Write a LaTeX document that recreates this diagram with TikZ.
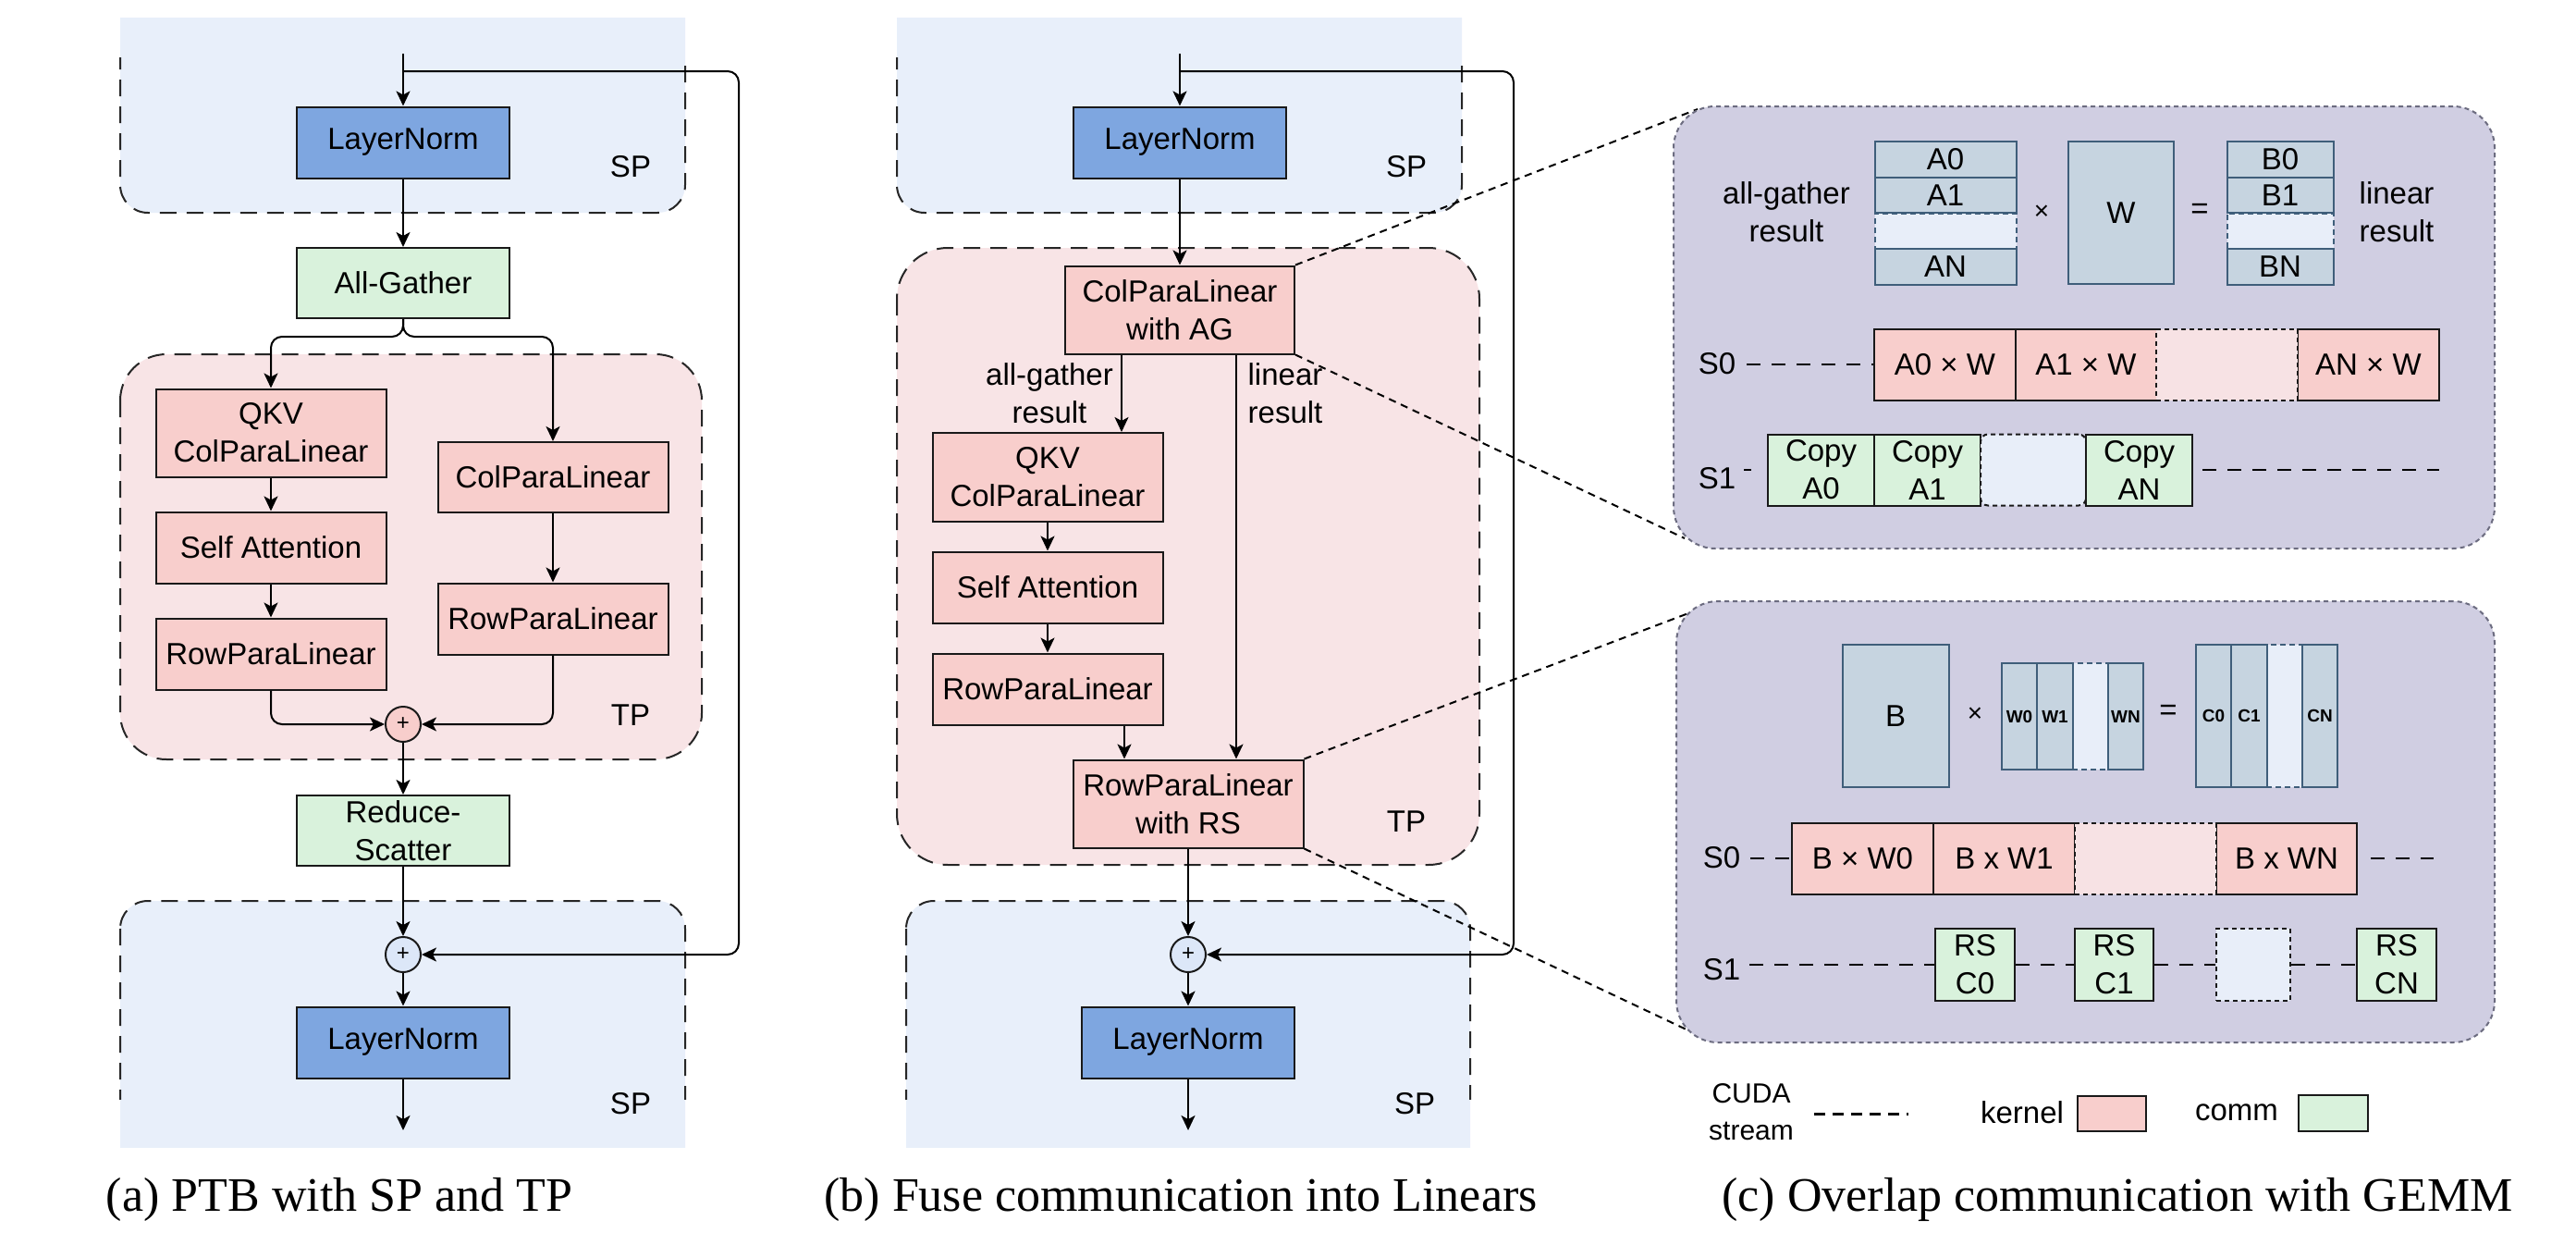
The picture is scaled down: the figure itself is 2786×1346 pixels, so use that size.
\documentclass[tikz,border=0pt]{standalone}
\usepackage{fontspec}
\setmainfont{Liberation Sans}
\newfontfamily\capfont{Liberation Serif}
\usetikzlibrary{arrows.meta,calc}
\definecolor{spblue}{HTML}{E8EFFA}
\definecolor{tppink}{HTML}{F8E4E6}
\definecolor{lnblue}{HTML}{7EA6E0}
\definecolor{kerpink}{HTML}{F8CECC}
\definecolor{commgreen}{HTML}{D9F2DC}
\definecolor{plusblue}{HTML}{DCE7F8}
\definecolor{cpurple}{HTML}{D0CEE2}
\definecolor{cborder}{HTML}{6C6C80}
\definecolor{matfill}{HTML}{C6D4E0}
\definecolor{matdraw}{HTML}{3F5E7A}
\definecolor{blankblue}{HTML}{E8EEF9}
\definecolor{blankpink}{HTML}{F7E2E4}
\begin{document}
\begin{tikzpicture}[x=1pt,y=-1pt,
  every node/.style={font=\fontsize{33}{41}\selectfont},
  bx/.style={draw=black!90, line width=2pt, align=center, inner sep=0pt},
  lnbox/.style={bx, fill=lnblue, minimum width=230pt, minimum height=77pt},
  commbox/.style={bx, fill=commgreen, minimum width=230pt, minimum height=76pt},
  kbox/.style={bx, fill=kerpink, minimum width=249pt, minimum height=77pt},
  plusnode/.style={circle, draw=black!90, line width=2pt, minimum size=38pt, inner sep=0pt, font=\fontsize{24}{24}\selectfont},
  arr/.style={-{Stealth[length=16pt,width=15pt,inset=4pt]}, line width=2pt},
  region/.style={draw=black!85, line width=2pt, dash pattern=on 18pt off 11pt},
  lbl/.style={inner sep=0pt, align=center},
  zoomline/.style={line width=2pt, dash pattern=on 8pt off 6pt},
  cpanel/.style={fill=cpurple, draw=cborder, line width=2pt, dash pattern=on 5pt off 4pt, rounded corners=45pt, inner sep=0pt},
  mat/.style={draw=matdraw, fill=matfill, line width=2pt, inner sep=0pt, align=center},
  matblank/.style={draw=matdraw, fill=blankblue, line width=2pt, dash pattern=on 6pt off 4pt, inner sep=0pt},
  kseg/.style={bx, fill=kerpink, minimum width=153pt, minimum height=77pt},
  kblank/.style={draw=black!90, fill=blankpink, line width=2pt, dash pattern=on 5pt off 4pt, inner sep=0pt, minimum width=153pt, minimum height=77pt},
  cseg/.style={bx, fill=commgreen, minimum height=77pt},
  cblank/.style={draw=black!90, fill=blankblue, line width=2pt, dash pattern=on 5pt off 4pt, inner sep=0pt, minimum height=77pt},
  stream/.style={line width=2pt, dash pattern=on 15pt off 12pt},
  smallb/.style={font=\fontsize{19}{22}\selectfont\bfseries},
]
\useasboundingbox (0,0) rectangle (2786,1346);
\fill[white] (0,0) rectangle (2786,1346);

% ---------------- regions (a)
\begin{scope}
  \clip (0,20) rectangle (2786,1346);
  \fill[spblue, rounded corners=30pt] (130,-60) rectangle (741,230);
  \fill[spblue, rounded corners=30pt] (970,-60) rectangle (1581,230);
\end{scope}
\begin{scope}
  \clip (0,63) rectangle (2786,1346);
  \draw[region, rounded corners=30pt] (130,-60) rectangle (741,230);
  \draw[region, rounded corners=30pt] (970,-60) rectangle (1581,230);
\end{scope}
\draw[region, fill=tppink, rounded corners=50pt] (130,383) rectangle (759,821);
\draw[region, fill=tppink, rounded corners=55pt] (970,268) rectangle (1600,935);
\begin{scope}
  \clip (0,0) rectangle (2786,1240);
  \fill[spblue, rounded corners=30pt] (130,974) rectangle (741,1400);
  \fill[spblue, rounded corners=30pt] (980,974) rectangle (1590,1400);
\end{scope}
\begin{scope}
  \clip (0,0) rectangle (2786,1188);
  \draw[region, rounded corners=30pt] (130,974) rectangle (741,1400);
  \draw[region, rounded corners=30pt] (980,974) rectangle (1590,1400);
\end{scope}

% ---------------- panel (a)
\node[lnbox] (a_ln1) at (436,154) {LayerNorm};
\node[commbox] (a_ag) at (436,306) {All-Gather};
\node[kbox, minimum height=95pt] (a_qkv) at (293,468) {QKV\\ColParaLinear};
\node[kbox, minimum height=76pt] (a_col) at (598,516) {ColParaLinear};
\node[kbox] (a_sa) at (293,592) {Self Attention};
\node[kbox] (a_row1) at (293,707) {RowParaLinear};
\node[kbox] (a_row2) at (598,669) {RowParaLinear};
\node[plusnode, fill=kerpink] (a_p1) at (436,783) {+};
\node[commbox] (a_rs) at (436,898) {Reduce-\\Scatter};
\node[plusnode, fill=plusblue] (a_p2) at (436,1032) {+};
\node[lnbox] (a_ln2) at (436,1127) {LayerNorm};
\node[lbl] (a_sp1) at (682,180) {SP};
\node[lbl] (a_tp) at (682,773) {TP};
\node[lbl] (a_sp2) at (682,1193) {SP};
\coordinate (a_in) at (436,58);
\coordinate (a_br) at (436,77);
\coordinate (a_sk1) at (799,77);
\coordinate (a_sk2) at (799,1032);
\coordinate (a_out) at (436,1222);

\draw[arr] (a_in) -- (a_ln1);
\draw[arr, rounded corners=12pt] (a_br) -- (a_sk1) -- (a_sk2) -- (a_p2);
\draw[arr] (a_ln1) -- (a_ag);
\draw[arr, rounded corners=12pt] (a_ag.south) -- ++(0,19) -| (a_qkv.north);
\draw[arr, rounded corners=12pt] (a_ag.south) -- ++(0,19) -| (a_col.north);
\draw[arr] (a_qkv) -- (a_sa);
\draw[arr] (a_sa) -- (a_row1);
\draw[arr] (a_col) -- (a_row2);
\draw[arr, rounded corners=12pt] (a_row1.south) |- (a_p1);
\draw[arr, rounded corners=12pt] (a_row2.south) |- (a_p1);
\draw[arr] (a_p1) -- (a_rs);
\draw[arr] (a_rs) -- (a_p2);
\draw[arr] (a_p2) -- (a_ln2);
\draw[arr] (a_ln2) -- (a_out);

% ---------------- panel (b)
\node[lnbox] (b_ln1) at (1276,154) {LayerNorm};
\node[kbox, minimum width=248pt, minimum height=95pt] (b_col) at (1276,335) {ColParaLinear\\with AG};
\node[kbox, minimum height=96pt] (b_qkv) at (1133,516) {QKV\\ColParaLinear};
\node[kbox] (b_sa) at (1133,635) {Self Attention};
\node[kbox] (b_row) at (1133,745) {RowParaLinear};
\node[kbox, minimum height=95pt] (b_rrs) at (1285,869) {RowParaLinear\\with RS};
\node[plusnode, fill=plusblue] (b_p) at (1285,1032) {+};
\node[lnbox] (b_ln2) at (1285,1127) {LayerNorm};
\node[lbl] (b_sp1) at (1521,180) {SP};
\node[lbl] (b_tp) at (1521,888) {TP};
\node[lbl] (b_sp2) at (1530,1193) {SP};
\node[lbl] (b_agl) at (1135,425) {all-gather\\result};
\node[lbl] (b_lrl) at (1390,425) {linear\\result};
\coordinate (b_in) at (1276,58);
\coordinate (b_br) at (1276,77);
\coordinate (b_sk1) at (1637,77);
\coordinate (b_sk2) at (1637,1032);
\coordinate (b_out) at (1285,1222);

\draw[arr] (b_in) -- (b_ln1);
\draw[arr, rounded corners=12pt] (b_br) -- (b_sk1) -- (b_sk2) -- (b_p);
\draw[arr] (b_ln1) -- (b_col);
\draw[arr] ([xshift=-63pt]b_col.south) -- ([xshift=80pt]b_qkv.north);
\draw[arr] ([xshift=61pt]b_col.south) -- ([xshift=52pt]b_rrs.north);
\draw[arr] (b_qkv) -- (b_sa);
\draw[arr] (b_sa) -- (b_row);
\draw[arr] ([xshift=83pt]b_row.south) -- ([xshift=-69pt]b_rrs.north);
\draw[arr] (b_rrs) -- (b_p);
\draw[arr] (b_p) -- (b_ln2);
\draw[arr] (b_ln2) -- (b_out);

% ---------------- zoom lines
\coordinate (z1a) at (1836,118);
\coordinate (z1b) at (1822,582);
\coordinate (z2a) at (1834,660);
\coordinate (z2b) at (1828,1115);
\draw[zoomline] (b_col.north east) -- (z1a);
\draw[zoomline] (b_col.south east) -- (z1b);
\draw[zoomline] (b_rrs.north east) -- (z2a);
\draw[zoomline] (b_rrs.south east) -- (z2b);

% ---------------- panel (c) top
\node[cpanel, minimum width=888pt, minimum height=478pt] (c1) at (2254,354) {};
\node[lbl] (c1_agl) at (1932,229) {all-gather\\result};
\node[matblank, minimum width=153pt, minimum height=38.5pt] (c1_ab) at (2104,249.75) {};
\node[mat, minimum width=153pt, minimum height=38.5pt] (c1_a0) at (2104,172.5) {A0};
\node[mat, minimum width=153pt, minimum height=38.5pt] (c1_a1) at (2104,211) {A1};
\node[mat, minimum width=153pt, minimum height=38.5pt] (c1_an) at (2104,288.25) {AN};
\node[lbl, font=\fontsize{28}{30}\selectfont] (c1_x) at (2208,230) {×};
\node[mat, minimum width=114pt, minimum height=154.5pt] (c1_w) at (2294,230) {W};
\node[lbl] (c1_eq) at (2379,228) {=};
\node[matblank, minimum width=115pt, minimum height=38.5pt] (c1_bb) at (2466,249.75) {};
\node[mat, minimum width=115pt, minimum height=38.5pt] (c1_b0) at (2466,172.5) {B0};
\node[mat, minimum width=115pt, minimum height=38.5pt] (c1_b1) at (2466,211) {B1};
\node[mat, minimum width=115pt, minimum height=38.5pt] (c1_bn) at (2466,288.25) {BN};
\node[lbl] (c1_lrl) at (2592,229) {linear\\result};

\node[lbl] (c1_s0) at (1857,393) {S0};
\node[kseg] (c1_k0) at (2103.5,394) {A0 × W};
\node[kseg] (c1_k1) at (2256,394) {A1 × W};
\node[kseg] (c1_kn) at (2561.5,394) {AN × W};
\node[kblank] (c1_kb) at (2408.5,394) {};
\coordinate (c1_s0st) at (1889,394);
\draw[stream] (c1_s0st) -- (c1_k0.west);

\node[lbl] (c1_s1) at (1857,517) {S1};
\node[cseg, minimum width=115pt] (c1_c0) at (1969.5,508) {Copy\\A0};
\node[cseg, minimum width=115pt] (c1_c1) at (2084.5,508) {Copy\\A1};
\node[cblank, minimum width=114pt, rounded corners=8pt] (c1_cb) at (2199,508) {};
\node[cseg, minimum width=115pt] (c1_cn) at (2313.5,508) {Copy\\AN};
\coordinate (c1_s1st) at (1886,508);
\coordinate (c1_s1end) at (2638,508);
\draw[line width=2pt] (c1_s1st) -- ++(8,0);
\draw[stream] ([xshift=10pt]c1_cn.east) -- (c1_s1end);

% ---------------- panel (c) bottom
\node[cpanel, minimum width=885pt, minimum height=477pt] (c2) at (2255.5,888.5) {};
\node[mat, minimum width=115pt, minimum height=154pt] (c2_b) at (2050,774) {B};
\node[lbl, font=\fontsize{28}{30}\selectfont] (c2_x) at (2136,773) {×};
\node[matblank, minimum width=38.5pt, minimum height=115pt] (c2_wb) at (2260.5,774.5) {};
\node[mat, smallb, minimum width=38.5pt, minimum height=115pt] (c2_w0) at (2184,774.5) {W0};
\node[mat, smallb, minimum width=38.5pt, minimum height=115pt] (c2_w1) at (2222.5,774.5) {W1};
\node[mat, smallb, minimum width=38.5pt, minimum height=115pt] (c2_wn) at (2299,774.5) {WN};
\node[lbl] (c2_eq) at (2345,770) {=};
\node[matblank, minimum width=38.5pt, minimum height=154pt] (c2_cb) at (2470.5,774) {};
\node[mat, smallb, minimum width=38.5pt, minimum height=154pt] (c2_c0) at (2394,774) {C0};
\node[mat, smallb, minimum width=38.5pt, minimum height=154pt] (c2_c1) at (2432.5,774) {C1};
\node[mat, smallb, minimum width=38.5pt, minimum height=154pt] (c2_cn) at (2509,774) {CN};

\node[lbl] (c2_s0) at (1862,927) {S0};
\node[kseg] (c2_k0) at (2014.5,928) {B × W0};
\node[kseg] (c2_k1) at (2167.5,928) {B x W1};
\node[kseg, minimum width=152pt] (c2_kn) at (2473,928) {B x WN};
\node[kblank] (c2_kb) at (2320.5,928) {};
\coordinate (c2_s0st) at (1893,928);
\coordinate (c2_s0end) at (2632,928);
\draw[stream] (c2_s0st) -- (c2_k0.west);
\draw[stream] ([xshift=14pt]c2_kn.east) -- (c2_s0end);

\node[lbl] (c2_s1) at (1862,1048) {S1};
\node[cseg, minimum width=86pt, minimum height=78pt] (c2_r0) at (2136,1043) {RS\\C0};
\node[cseg, minimum width=85pt, minimum height=78pt] (c2_r1) at (2286.5,1043) {RS\\C1};
\node[cblank, minimum width=80pt, minimum height=78pt] (c2_rb) at (2437,1043) {};
\node[cseg, minimum width=86pt, minimum height=78pt] (c2_rn) at (2592,1043) {RS\\CN};
\coordinate (c2_s1st) at (1892,1043);
\draw[stream] (c2_s1st) -- (c2_r0.west);
\draw[stream] (c2_r0.east) -- (c2_r1.west);
\draw[stream] (c2_r1.east) -- (c2_rb.west);
\draw[stream] (c2_rb.east) -- (c2_rn.west);

% ---------------- legend
\node[lbl, font=\fontsize{30}{40}\selectfont] (lg_cuda) at (1894,1202) {CUDA\\stream};
\coordinate (lg_d1) at (1962,1204);
\coordinate (lg_d2) at (2064,1204);
\draw[line width=3pt, dash pattern=on 12pt off 8pt] (lg_d1) -- (lg_d2);
\node[lbl] (lg_k) at (2187,1203) {kernel};
\node[bx, fill=kerpink, minimum width=74pt, minimum height=38pt] (lg_kb) at (2284,1204) {};
\node[lbl] (lg_c) at (2419,1203) {comm};
\node[bx, fill=commgreen, minimum width=75pt, minimum height=39pt] (lg_cb) at (2523.5,1203.5) {};

% ---------------- captions
\node[font=\capfont\fontsize{52}{60}\selectfont] (cap_a) at (367,1297) {(a) PTB with SP and TP};
\node[font=\capfont\fontsize{52}{60}\selectfont] (cap_b) at (1277,1297) {(b) Fuse communication into Linears};
\node[font=\capfont\fontsize{52}{60}\selectfont] (cap_c) at (2290,1297) {(c) Overlap communication with GEMM};
\end{tikzpicture}
\end{document}
